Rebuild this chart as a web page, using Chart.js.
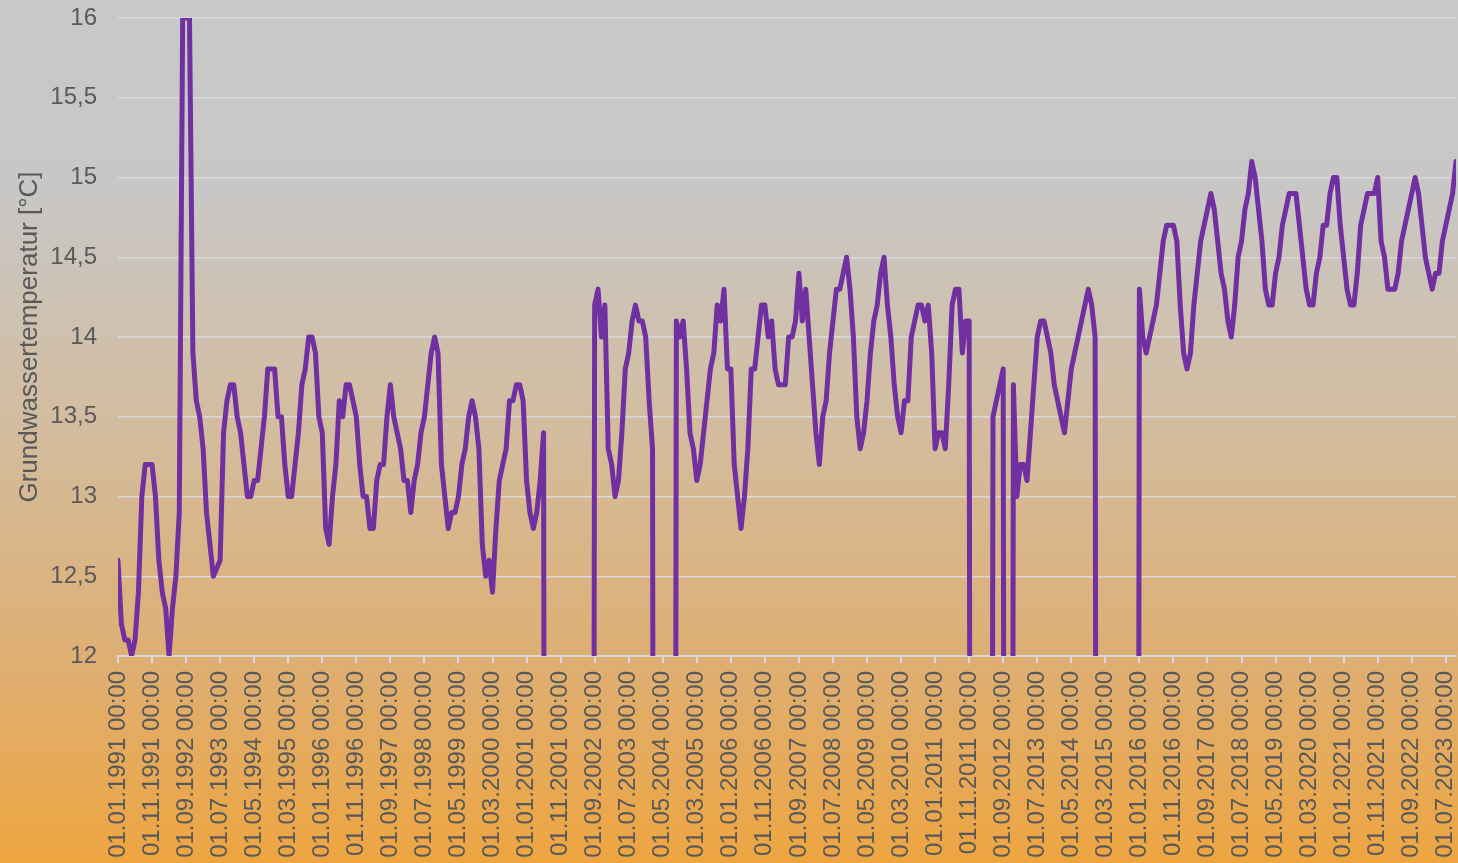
<!DOCTYPE html>
<html lang="de">
<head>
<meta charset="utf-8">
<title>Grundwassertemperatur</title>
<script src="https://cdn.jsdelivr.net/npm/chart.js@4.4.1/dist/chart.umd.min.js"></script>
<style>
  html, body { margin: 0; padding: 0; }
  #wrap { width: 1458px; height: 863px; position: relative; }
</style>
</head>
<body>
<div id="wrap"><canvas id="tempChart"></canvas></div>
<script>
// Monatswerte der Grundwassertemperatur [°C], 0 = kein Messwert
const y1991 = [12.6, 12.2, 12.1, 12.1, 12.0, 12.1, 12.4, 13.0, 13.2, 13.2, 13.2, 13.0];
const y1992 = [12.6, 12.4, 12.3, 12.0, 12.3, 12.5, 12.9, 16.0, 16.0, 16.0, 13.9, 13.6];
const y1993 = [13.5, 13.3, 12.9, 12.7, 12.5, 12.55, 12.6, 13.4, 13.6, 13.7, 13.7, 13.5];
const y1994 = [13.4, 13.2, 13.0, 13.0, 13.1, 13.1, 13.3, 13.5, 13.8, 13.8, 13.8, 13.5];
const y1995 = [13.5, 13.2, 13.0, 13.0, 13.2, 13.4, 13.7, 13.8, 14.0, 14.0, 13.9, 13.5];
const y1996 = [13.4, 12.8, 12.7, 13.0, 13.2, 13.6, 13.5, 13.7, 13.7, 13.6, 13.5, 13.2];
const y1997 = [13.0, 13.0, 12.8, 12.8, 13.1, 13.2, 13.2, 13.5, 13.7, 13.5, 13.4, 13.3];
const y1998 = [13.1, 13.1, 12.9, 13.1, 13.2, 13.4, 13.5, 13.7, 13.9, 14.0, 13.9, 13.2];
const y1999 = [13.0, 12.8, 12.9, 12.9, 13.0, 13.2, 13.3, 13.5, 13.6, 13.5, 13.3, 12.7];
const y2000 = [12.5, 12.6, 12.4, 12.8, 13.1, 13.2, 13.3, 13.6, 13.6, 13.7, 13.7, 13.6];
const y2001 = [13.1, 12.9, 12.8, 12.9, 13.1, 13.4, 0, 0, 0, 0, 0, 0];
const y2002 = [0, 0, 0, 0, 0, 0, 0, 0, 14.2, 14.3, 14.0, 14.2];
const y2003 = [13.3, 13.2, 13.0, 13.1, 13.4, 13.8, 13.9, 14.1, 14.2, 14.1, 14.1, 14.0];
const y2004 = [13.6, 13.3, 0, 0, 0, 0, 0, 0, 14.1, 14.0, 14.1, 13.8];
const y2005 = [13.4, 13.3, 13.1, 13.2, 13.4, 13.6, 13.8, 13.9, 14.2, 14.1, 14.3, 13.8];
const y2006 = [13.8, 13.2, 13.0, 12.8, 13.0, 13.3, 13.8, 13.8, 14.0, 14.2, 14.2, 14.0];
const y2007 = [14.1, 13.8, 13.7, 13.7, 13.7, 14.0, 14.0, 14.1, 14.4, 14.1, 14.3, 14.0];
const y2008 = [13.7, 13.4, 13.2, 13.5, 13.6, 13.9, 14.1, 14.3, 14.3, 14.4, 14.5, 14.3];
const y2009 = [14.0, 13.5, 13.3, 13.4, 13.6, 13.9, 14.1, 14.2, 14.4, 14.5, 14.2, 14.0];
const y2010 = [13.7, 13.5, 13.4, 13.6, 13.6, 14.0, 14.1, 14.2, 14.2, 14.1, 14.2, 13.9];
const y2011 = [13.3, 13.4, 13.4, 13.3, 13.7, 14.2, 14.3, 14.3, 13.9, 14.1, 14.1, 0];
const y2012 = [0, 0, 0, 0, 0, 13.5, 13.6, 13.7, 13.8, 0, 0, 13.7];
const y2013 = [13.0, 13.2, 13.2, 13.1, 13.4, 13.7, 14.0, 14.1, 14.1, 14.0, 13.9, 13.7];
const y2014 = [13.6, 13.5, 13.4, 13.6, 13.8, 13.9, 14.0, 14.1, 14.2, 14.3, 14.2, 14.0];
const y2015 = [0, 0, 0, 0, 0, 0, 0, 0, 0, 0, 0, 0];
const y2016 = [14.3, 14.0, 13.9, 14.0, 14.1, 14.2, 14.4, 14.6, 14.7, 14.7, 14.7, 14.6];
const y2017 = [14.2, 13.9, 13.8, 13.9, 14.2, 14.4, 14.6, 14.7, 14.8, 14.9, 14.8, 14.6];
const y2018 = [14.4, 14.3, 14.1, 14.0, 14.2, 14.5, 14.6, 14.8, 14.9, 15.1, 15.0, 14.8];
const y2019 = [14.6, 14.3, 14.2, 14.2, 14.4, 14.5, 14.7, 14.8, 14.9, 14.9, 14.9, 14.7];
const y2020 = [14.5, 14.3, 14.2, 14.2, 14.4, 14.5, 14.7, 14.7, 14.9, 15.0, 15.0, 14.7];
const y2021 = [14.5, 14.3, 14.2, 14.2, 14.4, 14.7, 14.8, 14.9, 14.9, 14.9, 15.0, 14.6];
const y2022 = [14.5, 14.3, 14.3, 14.3, 14.4, 14.6, 14.7, 14.8, 14.9, 15.0, 14.9, 14.7];
const y2023 = [14.5, 14.4, 14.3, 14.4, 14.4, 14.6, 14.7, 14.8, 14.9, 15.1];

const temperatur = [].concat(
  y1991, y1992, y1993, y1994, y1995, y1996, y1997, y1998, y1999, y2000,
  y2001, y2002, y2003, y2004, y2005, y2006, y2007, y2008, y2009, y2010,
  y2011, y2012, y2013, y2014, y2015, y2016, y2017, y2018, y2019, y2020,
  y2021, y2022, y2023
);

// ein Datum pro Monat, beschriftet wird jeder 10. Monat
const START_YEAR = 1991;
const LABEL_STEP = 10;
const labels = temperatur.map((v, i) => {
  const year = START_YEAR + Math.floor(i / 12);
  const month = String(i % 12 + 1).padStart(2, '0');
  return '01.' + month + '.' + year + ' 00:00';
});

const yTicks = [12, 12.5, 13, 13.5, 14, 14.5, 15, 15.5, 16];

const GRID = '#d9d9d9';
const TEXT = '#595959';
const FONT = '"Liberation Sans", Arial, sans-serif';

const background = {
  id: 'background',
  beforeDraw(chart) {
    const ctx = chart.ctx;
    const g = ctx.createLinearGradient(0, 0, 0, chart.height);
    g.addColorStop(0, '#c8c8c8');
    g.addColorStop(0.22, '#c8c7c6');
    g.addColorStop(0.5, '#d3bc9e');
    g.addColorStop(0.78, '#dfae70');
    g.addColorStop(1, '#eea540');
    ctx.save();
    ctx.fillStyle = g;
    ctx.fillRect(0, 0, chart.width, chart.height);
    ctx.restore();
  }
};

const data = {
  labels: labels,
  datasets: [{
    data: temperatur,
    borderColor: '#7030a0',
    backgroundColor: '#7030a0',
    borderWidth: 5,
    borderJoinStyle: 'round',
    borderCapStyle: 'round',
    pointRadius: 0,
    pointHoverRadius: 0,
    tension: 0,
    clip: 0
  }]
};

const config = {
  type: 'line',
  data: data,
  plugins: [background],
  options: {
    responsive: true,
    maintainAspectRatio: false,
    animation: false,
    layout: {
      padding: { top: 18, right: 2, left: 0, bottom: 0 }
    },
    scales: {
      x: {
        offset: false,
        afterFit(scale) {
          scale.height = 207;
          scale.paddingLeft = 0;
          scale.paddingRight = 0;
        },
        grid: {
          drawOnChartArea: false,
          drawTicks: true,
          tickLength: 7,
          color: GRID,
          lineWidth: 2
        },
        border: { display: true, color: GRID, width: 2 },
        ticks: {
          autoSkip: false,
          maxRotation: 90,
          minRotation: 90,
          padding: 8,
          color: TEXT,
          font: { family: FONT, size: 24 },
          callback(value, index) {
            return index % LABEL_STEP === 0 ? labels[index] : null;
          }
        }
      },
      y: {
        min: 12,
        max: 16,
        afterFit(scale) {
          scale.width = 118;
          scale.paddingTop = 0;
          scale.paddingBottom = 0;
        },
        afterBuildTicks(scale) {
          scale.ticks = yTicks.map(v => ({ value: v }));
        },
        grid: {
          color: GRID,
          lineWidth: 1.5,
          drawTicks: false
        },
        border: { display: false },
        ticks: {
          padding: 21,
          color: TEXT,
          font: { family: FONT, size: 24 },
          callback(value) {
            return String(value).replace('.', ',');
          }
        },
        title: {
          display: true,
          text: 'Grundwassertemperatur [°C]',
          color: TEXT,
          font: { family: FONT, size: 26 },
          padding: { top: 14, bottom: 0 }
        }
      }
    },
    plugins: {
      legend: { display: false },
      tooltip: { enabled: false }
    }
  }
};

const tempChart = new Chart(document.getElementById('tempChart'), config);
</script>
</body>
</html>
